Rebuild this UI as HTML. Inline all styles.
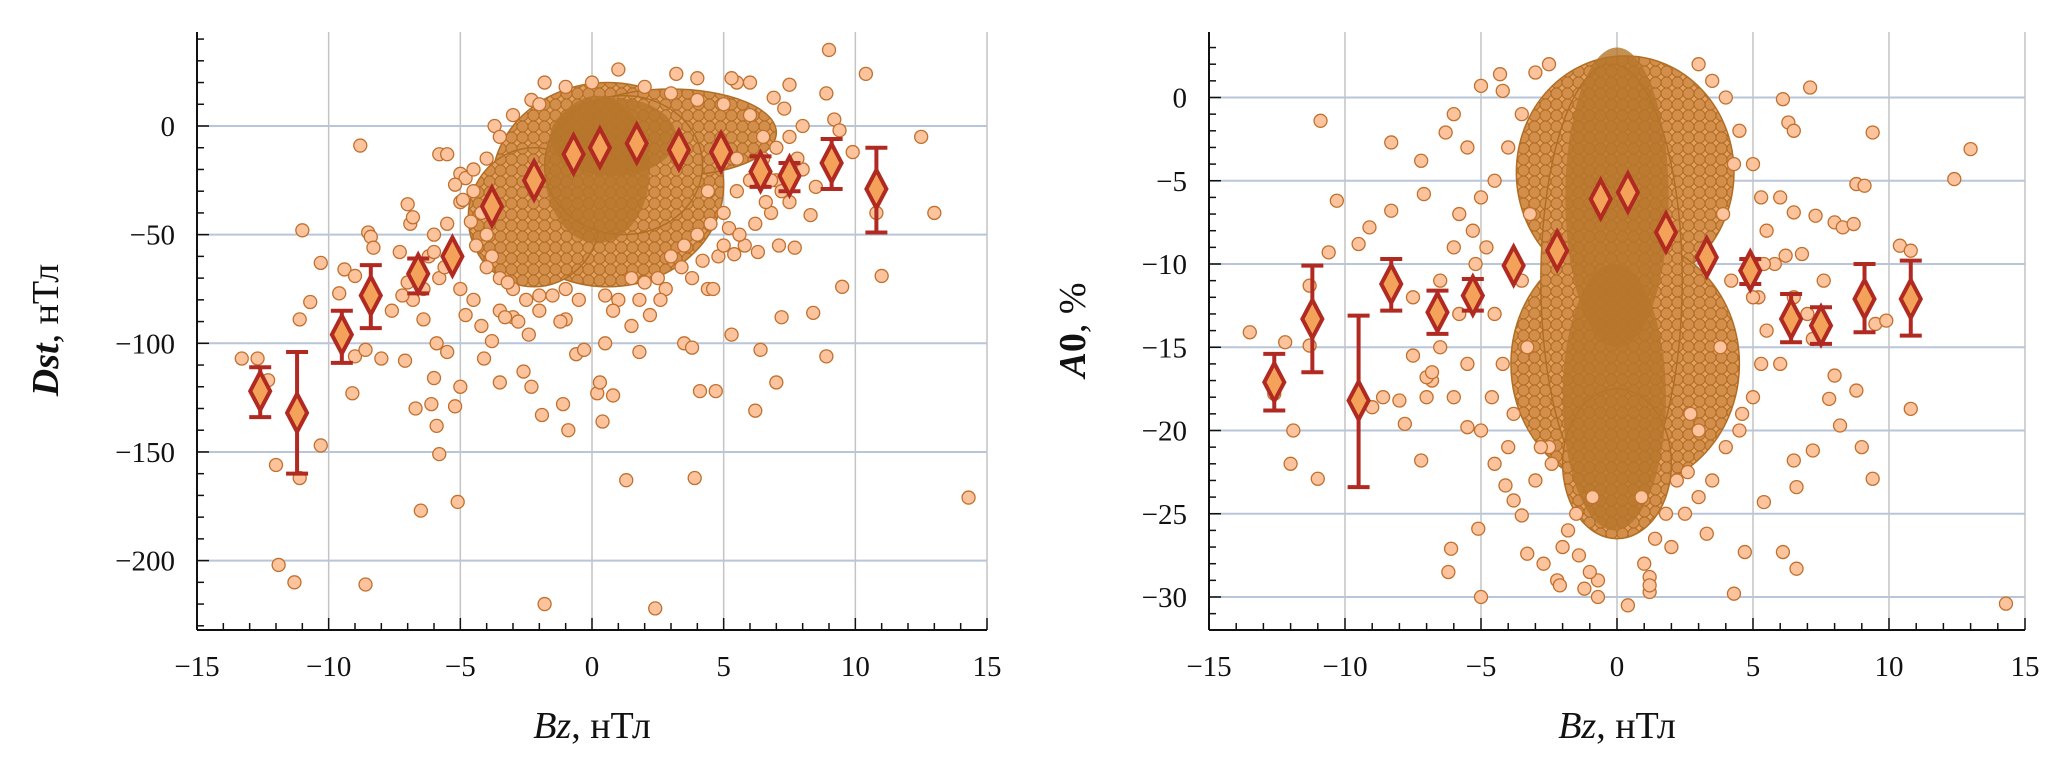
<!DOCTYPE html>
<html><head><meta charset="utf-8"><style>
html,body{margin:0;padding:0;background:#fff;}
svg{display:block;}
text{font-family:"Liberation Serif",serif;fill:#111;}
</style></head><body>
<svg id="fig" width="2067" height="768" viewBox="0 0 2067 768" xmlns="http://www.w3.org/2000/svg">
<defs>
<pattern id="dense" patternUnits="userSpaceOnUse" width="11" height="11">
<rect width="11" height="11" fill="#bb7c30"/>
<circle cx="0" cy="0" r="5.5" fill="#e6a062" stroke="#b06e24" stroke-width="1"/>
<circle cx="11" cy="0" r="5.5" fill="#e6a062" stroke="#b06e24" stroke-width="1"/>
<circle cx="0" cy="11" r="5.5" fill="#e6a062" stroke="#b06e24" stroke-width="1"/>
<circle cx="11" cy="11" r="5.5" fill="#e6a062" stroke="#b06e24" stroke-width="1"/>
<circle cx="5.5" cy="5.5" r="5.5" fill="#d48e4c" stroke="#b06e24" stroke-width="1"/>
</pattern>
</defs>
</svg>
<script>
// ---------- LEFT CHART DATA (Dst vs Bz) ----------
const leftMeanX=[-12.6,-11.2,-9.5,-8.4,-6.6,-5.3,-3.8,-2.2,-0.7,0.3,1.7,3.3,4.9,6.4,7.5,9.1,10.8];
const leftMeanY=[-122,-132,-96,-78,-68,-60,-37,-25,-13,-10,-8,-11,-12,-21,-23,-17,-29];
const leftErrLo=[-134,-160,-109,-93,-77,-60,-37,-25,-13,-10,-8,-11,-12,-28,-30,-29,-49];
const leftErrHi=[-111,-104,-85,-64,-61,-60,-37,-25,-13,-10,-8,-11,-12,-14,-17,-6,-10];
const leftPtsX=[-13.3,-12.7,-12.3,-12.0,-11.9,-11.3,-11.1,-11.0,-11.1,-10.7,-10.3,-10.3,-9.6,-9.4,-9.0,-9.1,-9.0,-8.8,-8.6,-8.5,-8.4,-8.3,-8.6,-8.0,-7.6,-7.3,-7.0,-7.1,-7.0,-6.9,-6.8,-6.7,-6.5,-6.4,-6.1,-6.0,-5.9,-5.8,-5.9,-5.5,-5.2,-5.1,-5.0,-4.8,-4.1,-3.8,-3.5,-2.6,-2.3,-1.9,-1.8,-1.1,-1.0,-0.9,-0.6,-0.3,0.2,0.3,0.4,0.5,0.8,1.3,1.5,1.8,2.2,2.4,3.5,3.8,3.9,4.1,4.4,4.6,4.7,5.3,5.2,5.4,6.2,6.4,6.3,7.0,7.2,7.1,7.7,8.4,8.3,8.9,8.9,9.0,9.2,9.4,9.5,9.9,10.4,10.8,11.0,12.5,13.0,14.3,8.0,7.3,7.5,6.9,6.0,5.5,5.3,4.0,3.2,1.0,-1.8,-2.3,-3.7,-5.8,-5.5,-5.0,-4.8,
-4.5,-4.2,-4,-3.8,-3.5,-3,-2.5,-2,-1.5,-1,-0.5,0.5,1,1.5,2,2.5,3,3.5,4,4.5,5,5.5,6,6.5,7,7.5,6,5,4,3,2,0,-1,-2,-3,-3.5,-4,-4.5,-5,-5.5,-6,-6.2,-5.8,-5,-4.5,-3.5,-3,5.5,6.5,7,7.5,8,8.5,6.8,5.8,4.8,3.8,2.8,
-5.2,-4.9,-4.6,-4.4,-6.0,-5.6,-4.0,-3.2,-2.8,-1.2,0.8,1.8,2.6,3.4,4.2,5.6,6.2,6.6,7.2,7.8,6.8,5.0,4.4,-2.0,-3.3,-6.4,-6.8,-7.2,-4.2,-2.4];
const leftPtsY=[-107,-107,-117,-156,-202,-210,-162,-48,-89,-81,-63,-147,-77,-66,-69,-123,-106,-9,-211,-49,-51,-56,-103,-107,-85,-58,-72,-108,-36,-45,-42,-130,-177,-89,-128,-116,-138,-151,-100,-104,-129,-173,-120,-87,-107,-99,-118,-113,-120,-133,-220,-128,-89,-140,-105,-103,-123,-118,-136,-100,-124,-163,-92,-104,-87,-222,-100,-102,-162,-122,-75,-75,-122,-96,-47,-59,-131,-103,-58,-118,-88,-55,-56,-86,-41,-106,15,35,3,-2,-74,-12,24,-40,-69,-5,-40,-171,0,8,19,13,20,20,22,22,24,26,20,12,0,-13,-13,-22,-24,
-30,-40,-50,-60,-70,-75,-80,-85,-78,-75,-80,-78,-80,-70,-72,-70,-60,-55,-50,-45,-40,-30,-25,-15,-10,-5,5,10,12,15,18,20,18,10,5,-5,-15,-20,-35,-45,-50,-60,-70,-75,-80,-85,-88,-15,-5,-25,-35,-20,-28,-40,-55,-60,-70,-75,
-27,-34,-44,-55,-58,-65,-65,-72,-90,-90,-85,-80,-80,-65,-62,-50,-45,-35,-30,-15,-25,-55,-30,-78,-88,-75,-80,-78,-92,-96];
const leftCoreCx=[0.6,3.0,-2.2,1.2];
const leftCoreCy=[-27,-3,-42,-18];
const leftCoreRx=[4.4,4.0,2.5,3.0];
const leftCoreRy=[47,20,32,32];
const leftSolidCx=[0.2,0.8];
const leftSolidCy=[-20,-5];
const leftSolidRx=[2.0,2.4];
const leftSolidRy=[34,18];

// ---------- RIGHT CHART DATA (A0 vs Bz) ----------
const rightMeanX=[-12.6,-11.2,-9.5,-8.3,-6.6,-5.3,-3.8,-2.2,-0.6,0.4,1.8,3.3,4.9,6.4,7.5,9.1,10.8];
const rightMeanY=[-17.1,-13.3,-18.2,-11.2,-12.9,-11.9,-10.1,-9.2,-6.1,-5.7,-8.1,-9.6,-10.4,-13.3,-13.7,-12.1,-12.1];
const rightErrLo=[-18.8,-16.5,-23.4,-12.8,-14.2,-12.8,-10.1,-9.2,-6.1,-5.7,-8.1,-9.6,-11.2,-14.7,-14.8,-14.1,-14.3];
const rightErrHi=[-15.4,-10.1,-13.1,-9.7,-11.6,-10.9,-10.1,-9.2,-6.1,-5.7,-8.1,-9.6,-9.7,-11.8,-12.6,-10.0,-9.8];
const rightPtsX=[-13.5,-12.6,-12.2,-11.9,-12.0,-11.0,-10.9,-10.6,-10.3,-11.3,-11.3,-9.5,-9.1,-9.0,-8.6,-8.3,-8.3,-8.0,-7.8,-7.5,-7.2,-7.1,-7.2,-7.0,-6.3,-6.1,-6.2,-6.0,-5.5,-5.1,-5.0,-5.0,-4.3,-4.2,-4.1,-3.8,-3.5,-3.3,-2.7,-2.2,-2.1,-0.7,-0.7,0.4,1.2,1.2,3.3,4.3,4.7,5.4,6.1,6.6,6.1,6.3,6.5,6.5,7.1,7.3,7.6,8.0,8.3,8.7,8.8,9.1,9.4,10.4,10.8,10.8,12.4,13.0,14.3,9.0,9.4,8.8,8.2,6.6,6.5,7.2,9.5,9.9,6.0,8.0,7.8,
-5.5,-5,-5.3,-6,-6.5,-5.8,-6.5,-6.8,-6,-5.5,-5,-4.5,-4,-3.8,-4.2,-4.5,-4.8,-4.5,-4,-3.5,-3,-2.5,3,3.5,4,4.5,5,5.3,5.5,5.8,5.2,5.5,5.3,5,4.5,4,3.5,3,2.5,2,-2,-1.5,-3,-2.5,2.7,3.8,4.2,3.9,4.3,-3.2,-3.5,-3.3,6.2,6.8,7,7.2,6.5,-7.5,-7,-6.8,
-1.8,-1.4,-1.0,1.0,1.4,1.8,-1.2,1.2,-0.9,0.9,2.2,-2.4,2.6,-2.8,3.0,4.6,5.0,-4.6,-5.2,5.4,-5.8,6.0];
const rightPtsY=[-14.1,-17.8,-14.7,-20,-22,-22.9,-1.4,-9.3,-6.2,-11.3,-14.9,-8.8,-7.8,-18.6,-18,-2.7,-6.8,-18.2,-19.6,-15.5,-3.8,-5.8,-21.8,-18,-2.1,-27.1,-28.5,-1.0,-19.8,-25.9,-30,0.7,1.4,0.4,-23.3,-24.2,-25.1,-27.4,-28,-29,-29.3,-30,-29,-30.5,-29.7,-28.8,-26.2,-29.8,-27.3,-24.3,-27.3,-28.3,-0.1,-1.5,-2,-6.9,0.6,-7.1,-11,-7.5,-7.8,-7.6,-5.2,-5.3,-2.1,-8.9,-9.2,-18.7,-4.9,-3.1,-30.4,-21,-22.9,-17.6,-19.7,-23.4,-21.8,-21.2,-13.6,-13.4,-16,-16.7,-18.1,
-3,-6,-8,-9,-11,-13,-15,-17,-18,-16,-20,-22,-21,-19,-16,-13,-9,-5,-3,-1,1.5,2,2,1,0,-2,-4,-6,-8,-10,-12,-14,-16,-18,-20,-21,-23,-24,-25,-27,-27,-25,-23,-21,-19,-15,-11,-7,-4,-7,-11,-15,-9.5,-9.4,-13,-14.5,-12,-12,-16.8,-16.5,
-26,-27.5,-28.5,-28,-26.5,-25,-29.5,-29.3,-24,-24,-23,-22,-22.5,-21,-20,-19,-12,-18,-10,-10,-7,-6];
const rightCoreCx=[0.3,0.3,-0.2,0.0];
const rightCoreCy=[-4.5,-16,-11,-22];
const rightCoreRx=[4.0,4.2,2.6,2.0];
const rightCoreRy=[7,7.5,13,4.5];
const rightSolidCx=[0,-0.1];
const rightSolidCy=[-6,-18];
const rightSolidRx=[1.9,1.9];
const rightSolidRy=[9,8];

// ---------- tick labels ----------
const xTickVals=[-15,-10,-5,0,5,10,15];
const leftYTicks=[0,-50,-100,-150,-200];
const rightYTicks=[0,-5,-10,-15,-20,-25,-30];

const NS='http://www.w3.org/2000/svg';
const svg=document.getElementById('fig');
function mk(tag,attrs,parent){const e=document.createElementNS(NS,tag);for(const k in attrs)e.setAttribute(k,attrs[k]);(parent||svg).appendChild(e);return e;}
function fmt(v){return v<0?'\u2212'+Math.abs(v):String(v);}

function drawChart(c){
  const g=mk('g',{});
  
  
  const sx=v=>c.left+(v-c.xmin)/(c.xmax-c.xmin)*(c.right-c.left);
  const sy=v=>c.yRef0-v*c.ppu;
  const kx=(c.right-c.left)/(c.xmax-c.xmin);
  const grid=mk('g',{},g);
  
  
  xTickVals.forEach(v=>{if(v===c.xmin)return;const l=mk('line',{x1:sx(v),x2:sx(v),y1:c.top,y2:c.bottom,stroke:'#c4c4c4','stroke-width':1.5},grid);
    });
  c.yTicks.forEach(v=>{const l=mk('line',{x1:c.left,x2:c.right,y1:sy(v),y2:sy(v),stroke:'#b9c5d8','stroke-width':2},grid);
    });
  const core=mk('g',{},g);
  
  
  c.coreCx.forEach((cx,i)=>{
    const e=mk('ellipse',{cx:sx(cx),cy:sy(c.coreCy[i]),rx:c.coreRx[i]*kx,ry:c.coreRy[i]*c.ppu,fill:'url(#dense)',stroke:'#b06e24','stroke-width':1.5},core);
    
  });
  c.solidCx.forEach((cx,i)=>{
    const e=mk('ellipse',{cx:sx(cx),cy:sy(c.solidCy[i]),rx:c.solidRx[i]*kx,ry:c.solidRy[i]*c.ppu,fill:'#b5762a','fill-opacity':0.8},core);
    
  });
  const pts=mk('g',{},g);
  
  
  c.px.forEach((x,i)=>{
    const p=mk('circle',{cx:sx(x),cy:sy(c.py[i]),r:6.5,fill:'#fcc39c',stroke:'#c0702e','stroke-width':1.3},pts);
    
  });
  const ax=mk('line',{x1:c.left,x2:c.right,y1:c.bottom,y2:c.bottom,stroke:'#111','stroke-width':2},g);
  
  const ay=mk('line',{x1:c.left,x2:c.left,y1:c.top,y2:c.bottom,stroke:'#111','stroke-width':2},g);
  
  for(let v=c.xmin;v<=c.xmax;v++){const big=v%5===0;
    const t=mk('line',{x1:sx(v),x2:sx(v),y1:c.bottom,y2:c.bottom-(big?12:7),stroke:'#111','stroke-width':1.5},g);
    }
  for(let v=c.yMinorStart;v>=c.yMinorEnd;v-=c.yMinorStep){const big=Math.abs(v)%c.yMajor===0;
    const y=sy(v);if(y<c.top||y>c.bottom)continue;
    const t=mk('line',{x1:c.left,x2:c.left+(big?12:7),y1:y,y2:y,stroke:'#111','stroke-width':1.5},g);
    }
  xTickVals.forEach(v=>{const t=mk('text',{x:sx(v),y:c.bottom+46,'text-anchor':'middle','font-size':29},g);t.textContent=fmt(v);
    });
  c.yTicks.forEach(v=>{const t=mk('text',{x:c.left-22,y:sy(v)+10,'text-anchor':'end','font-size':29},g);t.textContent=fmt(v);
    });
  const mg=mk('g',{},g);
  
  
  c.mx.forEach((x,i)=>{
    const X=sx(x),lo=sy(c.lo[i]),hi=sy(c.hi[i]);
    if(Math.abs(lo-hi)>4){
      const eb=mk('g',{stroke:'#b02a22','stroke-width':4,fill:'none'},mg);
      
      mk('line',{x1:X,x2:X,y1:lo,y2:hi},eb);
      mk('line',{x1:X-11,x2:X+11,y1:lo,y2:lo},eb);
      mk('line',{x1:X-11,x2:X+11,y1:hi,y2:hi},eb);
    }
    const Y=sy(c.my[i]);
    const d=mk('polygon',{points:`${X},${Y-19} ${X+10},${Y} ${X},${Y+19} ${X-10},${Y}`,fill:'#f4a25a',stroke:'#b02a22','stroke-width':4,'stroke-linejoin':'miter'},mg);
    
  });
  const xt=mk('text',{x:(c.left+c.right)/2,y:738,'text-anchor':'middle','font-size':38},g);
  
  xt.innerHTML='<tspan font-style="italic">Bz</tspan>, нТл';
  const yt=mk('text',{x:0,y:0,'text-anchor':'middle','font-size':38,transform:`translate(${c.ytX},${c.ytY}) rotate(-90)`},g);
  
  yt.innerHTML=c.ytitle;
}

drawChart({name:'dst-chart',left:197,right:987,top:32,bottom:630,xmin:-15,xmax:15,yRef0:126,ppu:(560.6-126)/200,
  yTicks:leftYTicks,yMinorStart:40,yMinorEnd:-230,yMinorStep:10,yMajor:50,
  px:leftPtsX,py:leftPtsY,mx:leftMeanX,my:leftMeanY,lo:leftErrLo,hi:leftErrHi,
  coreCx:leftCoreCx,coreCy:leftCoreCy,coreRx:leftCoreRx,coreRy:leftCoreRy,
  solidCx:leftSolidCx,solidCy:leftSolidCy,solidRx:leftSolidRx,solidRy:leftSolidRy,
  ytX:58,ytY:330,ytitle:'<tspan font-style="italic" font-weight="bold">Dst</tspan>, нТл'});
drawChart({name:'a0-chart',left:1209,right:2025,top:32,bottom:630,xmin:-15,xmax:15,yRef0:97.5,ppu:(597-97.5)/30,
  yTicks:rightYTicks,yMinorStart:3,yMinorEnd:-31,yMinorStep:1,yMajor:5,
  px:rightPtsX,py:rightPtsY,mx:rightMeanX,my:rightMeanY,lo:rightErrLo,hi:rightErrHi,
  coreCx:rightCoreCx,coreCy:rightCoreCy,coreRx:rightCoreRx,coreRy:rightCoreRy,
  solidCx:rightSolidCx,solidCy:rightSolidCy,solidRx:rightSolidRx,solidRy:rightSolidRy,
  ytX:1085,ytY:330,ytitle:'<tspan font-style="italic" font-weight="bold">A</tspan><tspan font-weight="bold">0</tspan>, %'});
</script>
</body></html>
